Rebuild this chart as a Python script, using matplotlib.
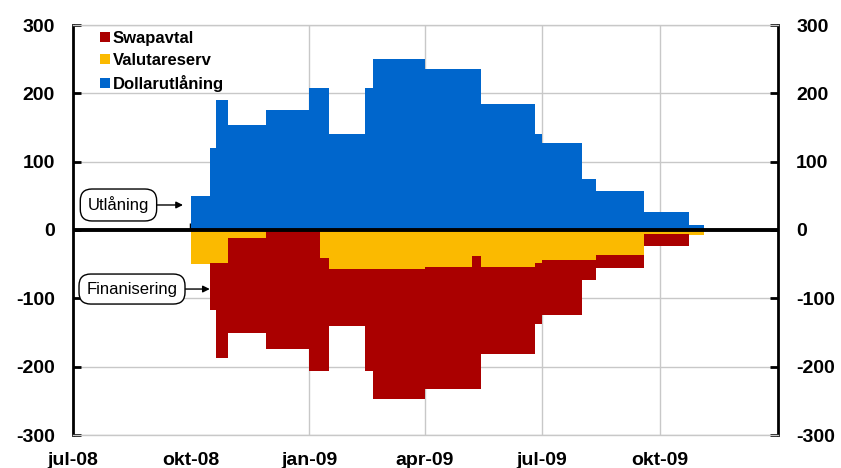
import numpy as np
import matplotlib
matplotlib.use("Agg")
import matplotlib.pyplot as plt

plt.rcParams['font.family'] = ['Liberation Sans', 'DejaVu Sans']

# start date of each period, last entry closes the final period
period_start = np.array([
    '2008-10-01', '2008-10-16', '2008-10-20', '2008-10-30', '2008-11-28',
    '2009-01-01', '2009-01-09', '2009-01-16', '2009-02-13', '2009-02-20',
    '2009-04-01', '2009-05-08', '2009-05-15', '2009-06-26', '2009-07-01',
    '2009-08-01', '2009-08-12', '2009-09-19', '2009-10-24', '2009-11-04',
], dtype='datetime64[D]')

# dollar lending (positive side), mdr
dollarutlaning = [50, 120, 190, 154, 176, 208, 208, 141, 208, 250,
                  235, 235, 185, 140, 127, 75, 57, 27, 8]
# funding (negative side): currency reserve and swap agreements
valutareserv = [50, 49, 49, 12, 0, 0, 41, 57, 57, 57,
                54, 38, 54, 49, 44, 44, 36, 6, 8]
swapavtal = [0, 68, 139, 139, 174, 206, 165, 83, 149, 191,
             179, 195, 128, 89, 80, 29, 19, 18, 0]

tick_dates = np.array(['2008-07-01', '2008-10-01', '2009-01-01', '2009-04-01',
                       '2009-07-01', '2009-10-01'], dtype='datetime64[D]')
tick_labels = ['jul-08', 'okt-08', 'jan-09', 'apr-09', 'jul-09', 'okt-09']
y_ticks = [-300, -200, -100, 0, 100, 200, 300]

blue = '#0066CC'
yellow = '#FBBA00'
red = '#AA0000'
grid_gray = '#C8C8C8'


def steps(vals):
    v = np.asarray(vals, dtype=float)
    return np.append(v, v[-1])


dollar = steps(dollarutlaning)
valuta = steps(valutareserv)
swap = steps(swapavtal)

fig = plt.figure(figsize=(8.41, 4.68), dpi=100)
ax = fig.add_axes([73 / 841, 1 - 435 / 468, 705 / 841, 410 / 468])

h_dollar = ax.fill_between(period_start, 0, dollar, step='post', color=blue,
                           lw=0, label='Dollarutlåning')
h_valuta = ax.fill_between(period_start, 0, -valuta, step='post', color=yellow,
                           lw=0, label='Valutareserv')
h_swap = ax.fill_between(period_start, -valuta, -valuta - swap, step='post',
                         color=red, lw=0, label='Swapavtal')

ax.set_xlim(np.datetime64('2008-07-01'), np.datetime64('2010-01-01'))
ax.set_ylim(-300, 300)
ax.set_yticks(y_ticks)
ax.set_yticklabels([str(v) for v in y_ticks])
ax.set_xticks(tick_dates)
ax.set_xticklabels(tick_labels)

ax.tick_params(axis='x', length=0, pad=12, labelsize=14)
ax.tick_params(axis='y', which='both', direction='in', length=6, width=2,
               labelsize=14, pad=13, left=True, right=True, labelright=True)
for lab in ax.get_xticklabels() + ax.get_yticklabels():
    lab.set_fontweight('bold')

ax.set_axisbelow(True)
ax.grid(True, color=grid_gray, lw=1)
# no vertical gridline at okt-08
ax.xaxis.get_gridlines()[1].set_visible(False)

for side in ('left', 'right'):
    ax.spines[side].set_color('black')
    ax.spines[side].set_linewidth(2)
for side in ('top', 'bottom'):
    ax.spines[side].set_color(grid_gray)
    ax.spines[side].set_linewidth(1)

# zero line with small upward quarter ticks
ax.axhline(0, color='black', lw=2.8, zorder=4)
zero = ax.secondary_xaxis(0.5)
zero.set_xticks(tick_dates[1:])
zero.set_xticklabels([])
zero.tick_params(direction='out', length=5, width=2.5, color='black')
for s in zero.spines.values():
    s.set_visible(False)

ax.legend(handles=[h_swap, h_valuta, h_dollar], loc='upper left',
          bbox_to_anchor=(0.039, 0.986), frameon=False, borderpad=0,
          borderaxespad=0, handlelength=0.55, handleheight=0.55,
          handletextpad=0.2, labelspacing=0.42,
          prop={'size': 12, 'weight': 'bold'})

box = dict(boxstyle='round,pad=0.45,rounding_size=0.7', fc='white',
           ec='black', lw=1)
arrow = dict(arrowstyle='-|>', color='black', lw=1, mutation_scale=10,
             shrinkA=0, shrinkB=0)
ax.annotate('Utlåning', xy=(0.156, 0.561), xytext=(0.0645, 0.561),
            xycoords='axes fraction', textcoords='axes fraction',
            ha='center', va='center', fontsize=12, bbox=box, arrowprops=arrow)
ax.annotate('Finanisering', xy=(0.194, 0.356), xytext=(0.0837, 0.356),
            xycoords='axes fraction', textcoords='axes fraction',
            ha='center', va='center', fontsize=12, bbox=box, arrowprops=arrow)

fig.savefig('out.png', dpi=100)
